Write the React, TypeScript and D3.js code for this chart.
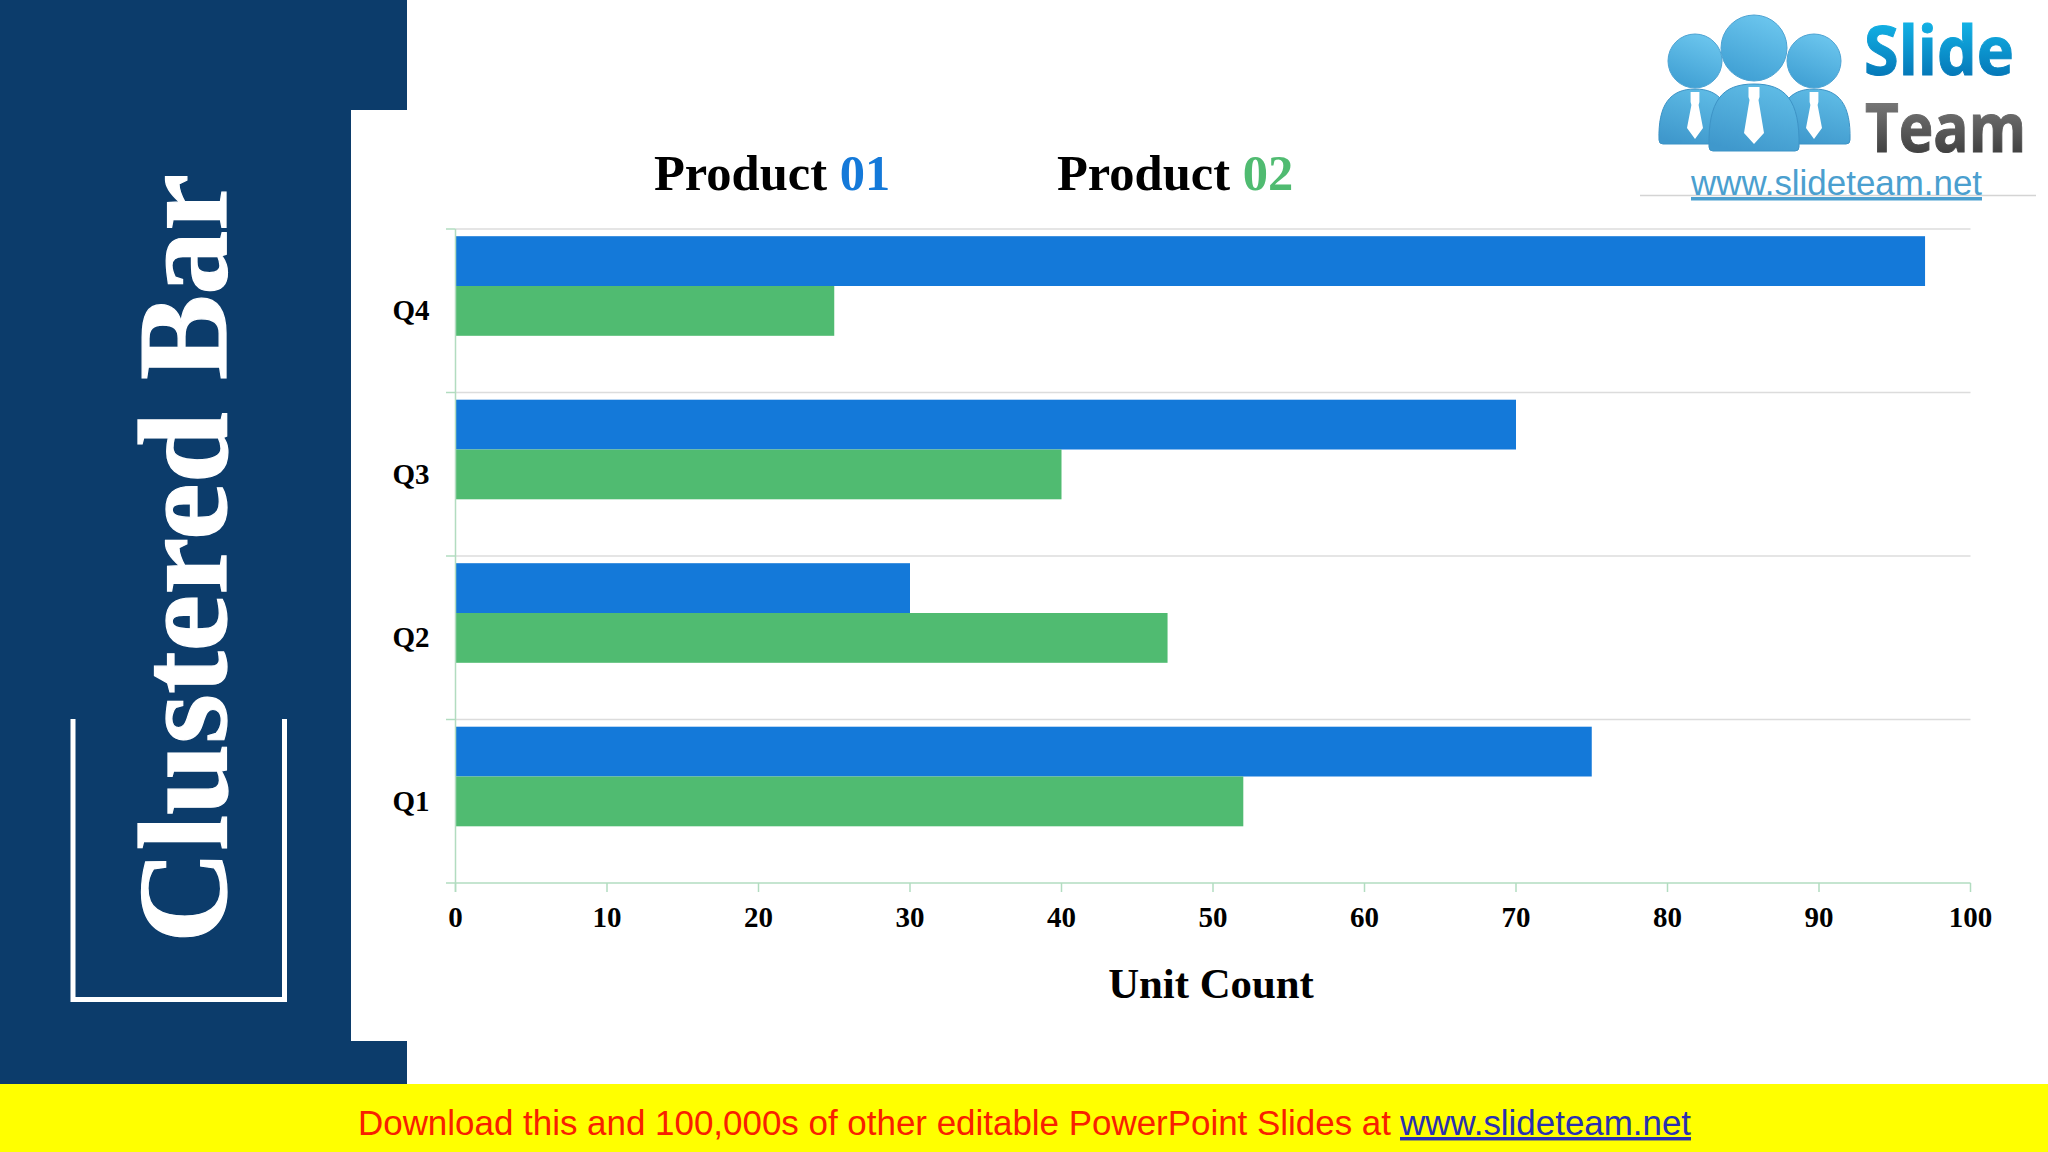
import React from "react";
import * as d3 from "d3";

const quarters = ["Q4", "Q3", "Q2", "Q1"];
const product01 = [97, 70, 30, 75];
const product02 = [25, 40, 47, 52];
const xTicks = [0, 10, 20, 30, 40, 50, 60, 70, 80, 90, 100];

const NAVY = "#0c3c6b";
const BLUE = "#1479d9";
const GREEN = "#50bb71";
const AXIS = "#b2dcc0";
const GRID = "#dcdcdc";
const SERIF = "'Liberation Serif', serif";
const SANS = "'Liberation Sans', sans-serif";

const x = d3.scaleLinear().domain([0, 100]).range([455.5, 1970.5]);
const y = d3.scaleBand<string>().domain(quarters).range([229, 883]);
const BAR_H = 49.8;
const BAR_OFF = 7.2;

function Person({ cx, headY, r, top, bottom, halfW, tieW, tieTop, tieBottom }: any) {
  const left = cx - halfW;
  const right = cx + halfW;
  const body = `M${left},${bottom - 4} C${left - 1},${top + 16} ${cx - halfW * 0.7},${top} ${cx},${top} C${cx + halfW * 0.7},${top} ${right + 1},${top + 16} ${right},${bottom - 4} Q${right},${bottom} ${right - 4},${bottom} L${left + 4},${bottom} Q${left},${bottom} ${left},${bottom - 4} Z`;
  const tie = `M${cx - tieW * 0.55},${tieTop} L${cx + tieW * 0.55},${tieTop} L${cx + tieW * 0.55},${tieTop + 10} L${cx + tieW * 0.45},${tieTop + 13} L${cx + tieW},${tieBottom - 11} L${cx},${tieBottom} L${cx - tieW},${tieBottom - 11} L${cx - tieW * 0.45},${tieTop + 13} L${cx - tieW * 0.55},${tieTop + 10} Z`;
  return (
    <g>
      <path d={body} fill="url(#bodyGrad)" stroke="#3d93c6" strokeWidth={1} />
      <path d={tie} fill="#ffffff" />
      <circle cx={cx} cy={headY} r={r} fill="url(#headGrad)" stroke="#4da3d3" strokeWidth={1} />
    </g>
  );
}

export default function App() {
  const bandOf = (q: string) => y(q) as number;
  return (
    <svg
      width={2048}
      height={1152}
      viewBox="0 0 2048 1152"
      style={{ position: "absolute", left: 0, top: 0, background: "#ffffff" }}
    >
      <defs>
        <linearGradient id="headGrad" x1="0.7" y1="0" x2="0.3" y2="1">
          <stop offset="0" stopColor="#6cc6ee" />
          <stop offset="1" stopColor="#3f9fd3" />
        </linearGradient>
        <linearGradient id="bodyGrad" x1="0.7" y1="0" x2="0.3" y2="1">
          <stop offset="0" stopColor="#5fbce6" />
          <stop offset="1" stopColor="#3f98cc" />
        </linearGradient>
        <linearGradient id="slideGrad" x1="0" y1="0" x2="0" y2="1">
          <stop offset="0.15" stopColor="#14b8ea" />
          <stop offset="0.85" stopColor="#0473b4" />
        </linearGradient>
        <linearGradient id="teamGrad" x1="0" y1="0" x2="0" y2="1">
          <stop offset="0.15" stopColor="#808080" />
          <stop offset="0.85" stopColor="#3c3c3c" />
        </linearGradient>
      </defs>

      {/* left panel */}
      <rect x={0} y={0} width={407} height={110} fill={NAVY} />
      <rect x={0} y={0} width={351} height={1084} fill={NAVY} />
      <rect x={0} y={1041} width={407} height={43} fill={NAVY} />
      <path d="M73,719 V999.5 H284.5 V719" fill="none" stroke="#ffffff" strokeWidth={5} />
      <text
        transform="translate(225.5,943) rotate(-90)"
        fontFamily={SERIF}
        fontWeight={700}
        fontSize={128}
        fill="#ffffff"
        stroke="#ffffff"
        strokeWidth={1.2}
      >
        Clustered Bar
      </text>

      {/* logo */}
      <g>
        <Person cx={1695} headY={61} r={27} top={89} bottom={144} halfW={36} tieW={8} tieTop={92} tieBottom={139} />
        <Person cx={1814} headY={61} r={27} top={89} bottom={144} halfW={36} tieW={8} tieTop={92} tieBottom={139} />
        <Person cx={1754} headY={48} r={33} top={84} bottom={151} halfW={45} tieW={10} tieTop={87} tieBottom={144} />
        <text x={1864} y={75} fontFamily="'Open Sans', sans-serif" fontWeight={700} fontSize={68} fill="url(#slideGrad)" stroke="url(#slideGrad)" strokeWidth={1} textLength={150} lengthAdjust="spacingAndGlyphs">Slide</text>
        <text x={1865} y={152} fontFamily="'Open Sans', sans-serif" fontWeight={700} fontSize={68} fill="url(#teamGrad)" stroke="url(#teamGrad)" strokeWidth={1} textLength={161} lengthAdjust="spacingAndGlyphs">Team</text>
        <line x1={1640} x2={2036} y1={195.5} y2={195.5} stroke="#d4d4d4" strokeWidth={1.5} />
        <text x={1691} y={195} fontFamily={SANS} fontSize={35} fill="#4b9fcf" textDecoration="underline" textLength={291} lengthAdjust="spacingAndGlyphs">www.slideteam.net</text>
      </g>

      {/* legend */}
      <text x={654} y={190} fontFamily={SERIF} fontWeight={700} fontSize={50.5} fill="#000000">
        Product <tspan fill={BLUE}>01</tspan>
      </text>
      <text x={1057} y={190} fontFamily={SERIF} fontWeight={700} fontSize={50.5} fill="#000000">
        Product <tspan fill={GREEN}>02</tspan>
      </text>

      {/* horizontal gridlines, one per band edge */}
      {quarters.map((q) => (
        <g key={q}>
          <line x1={x(0)} x2={x(100)} y1={bandOf(q)} y2={bandOf(q)} stroke={GRID} strokeWidth={1.5} />
          <line x1={446} x2={x(0)} y1={bandOf(q)} y2={bandOf(q)} stroke={AXIS} strokeWidth={1.5} />
        </g>
      ))}

      {/* bars */}
      {quarters.map((q, i) => (
        <g key={q}>
          <rect x={x(0)} y={bandOf(q) + BAR_OFF} width={x(product01[i]) - x(0)} height={BAR_H} fill={BLUE} />
          <rect x={x(0)} y={bandOf(q) + BAR_OFF + BAR_H} width={x(product02[i]) - x(0)} height={BAR_H} fill={GREEN} />
          <text
            x={429.5}
            y={bandOf(q) + y.bandwidth() / 2 + 9.5}
            textAnchor="end"
            fontFamily={SERIF}
            fontWeight={700}
            fontSize={29}
            fill="#000000"
          >
            {q}
          </text>
        </g>
      ))}

      {/* axes */}
      <line x1={x(0)} x2={x(0)} y1={229} y2={892} stroke={AXIS} strokeWidth={1.5} />
      <line x1={446} x2={x(100)} y1={883} y2={883} stroke={AXIS} strokeWidth={1.5} />
      {xTicks.map((t) => (
        <g key={t}>
          <line x1={x(t)} x2={x(t)} y1={883} y2={892} stroke={AXIS} strokeWidth={1.5} />
          <text x={x(t)} y={927} textAnchor="middle" fontFamily={SERIF} fontWeight={700} fontSize={29} fill="#000000">
            {t}
          </text>
        </g>
      ))}
      <text x={1211} y={998} textAnchor="middle" fontFamily={SERIF} fontWeight={700} fontSize={42.8} fill="#000000">
        Unit Count
      </text>

      {/* banner */}
      <rect x={0} y={1084} width={2048} height={68} fill="#ffff00" />
      <text x={358} y={1135} fontFamily={SANS} fontSize={34.5} fill="#f82000" textLength={1033} lengthAdjust="spacingAndGlyphs">
        Download this and 100,000s of other editable PowerPoint Slides at
      </text>
      <text x={1400} y={1135} fontFamily={SANS} fontSize={34.5} fill="#2a30b0" textDecoration="underline" textLength={291} lengthAdjust="spacingAndGlyphs">
        www.slideteam.net
      </text>
    </svg>
  );
}
